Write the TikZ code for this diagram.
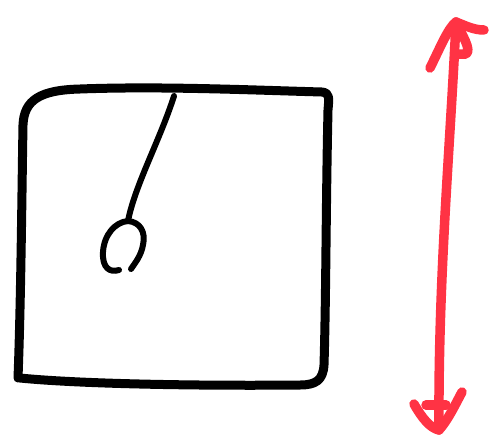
\documentclass[tikz,border=0pt]{standalone}
\definecolor{sketchred}{HTML}{FF3344}
\begin{document}
\begin{tikzpicture}[x=1pt,y=-1pt,
  ink/.style={draw=black,line width=9pt,line cap=round,line join=round},
  rope/.style={draw=black,line width=6pt,line cap=round,line join=round},
  redink/.style={draw=sketchred,line width=9.5pt,line cap=round,line join=round}]
\useasboundingbox (0,0) rectangle (490,437);
% box
\draw[ink] (18,378) .. controls (21,300) and (22,180) .. (23,125)
  .. controls (24,100) and (40,90) .. (80,89)
  .. controls (160,86) and (250,90) .. (322,92)
  .. controls (330,93) and (329,98) .. (328,110)
  .. controls (326,200) and (326,300) .. (324,365)
  .. controls (323,380) and (316,385) .. (300,385)
  .. controls (200,386) and (80,384) .. (20,378);
% pendulum
\coordinate (pivot) at (174,96);
\coordinate (hook) at (128,221);
\draw[rope] (pivot) .. controls (160,140) and (135,185) .. (hook);
\draw[rope] (hook) .. controls (140,222) and (146,232) .. (143,245)
  .. controls (141,256) and (135,263) .. (131,269);
\draw[rope] (hook) .. controls (115,222) and (104,235) .. (103,252)
  .. controls (102,268) and (110,273) .. (119,270);
% red arrow
\coordinate (top) at (456,22);
\coordinate (bot) at (439,430);
\draw[redink] (top) .. controls (450,150) and (438,280) .. (bot);
\draw[redink] (430,68) .. controls (440,48) and (448,28) .. (top)
  .. controls (466,26) and (474,30) .. (484,30);
\draw[redink] (top) .. controls (462,35) and (472,50) .. (466,54) -- (457,54);
\draw[redink] (414,404) .. controls (422,418) and (430,428) .. (bot)
  .. controls (448,420) and (455,405) .. (462,392);
\draw[redink] (426,405) -- (446,405);
\end{tikzpicture}
\end{document}
